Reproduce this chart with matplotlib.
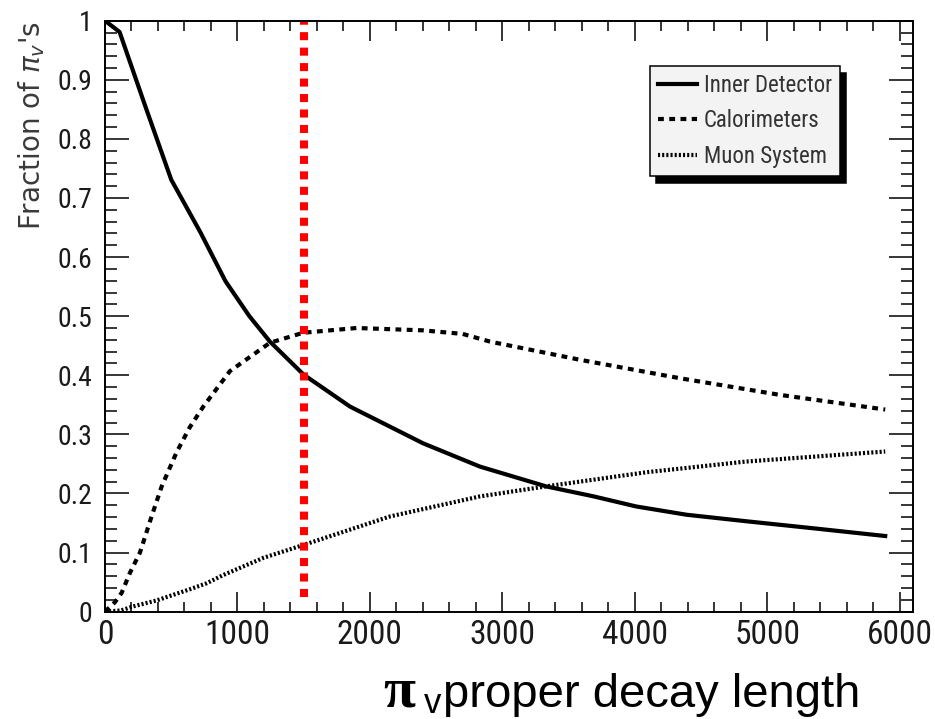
import numpy as np
import matplotlib
matplotlib.use('Agg')
import matplotlib.pyplot as plt
import matplotlib.ticker as ticker

# values
inner_x = [0, 110, 300, 500, 720, 910, 1090, 1245, 1500, 1850, 2400, 2830, 3330, 3690, 4010, 4390, 4840, 5350, 5890]
inner_y = [1.0, 0.981, 0.858, 0.731, 0.642, 0.559, 0.50, 0.457, 0.401, 0.347, 0.285, 0.2455, 0.212, 0.195, 0.178, 0.164, 0.153, 0.141, 0.128]

calo_x = [0, 75, 126, 189, 264, 350, 428, 541, 640, 742, 943, 1245, 1497, 1900, 2402, 2700, 2906, 3590, 4340, 5090, 5890]
calo_y = [0.0, 0.016, 0.032, 0.066, 0.10, 0.16, 0.212, 0.27, 0.312, 0.347, 0.407, 0.455, 0.472, 0.48, 0.476, 0.47, 0.457, 0.426, 0.395, 0.367, 0.342]

muon_x = [0, 120, 214, 390, 642, 767, 893, 1195, 1500, 2150, 2830, 3330, 4090, 4840, 5890]
muon_y = [0.0, 0.002, 0.009, 0.019, 0.038, 0.048, 0.062, 0.091, 0.113, 0.161, 0.195, 0.212, 0.236, 0.254, 0.271]

cut_x = 1500
cut_y = [0.025, 1.0]

labels = ['Inner Detector', 'Calorimeters', 'Muon System']

narrow = ['Roboto Condensed', 'Liberation Sans']
tick_col = '#1a1a1a'

fig = plt.figure(figsize=(9.35, 7.19), dpi=100)
ax = fig.add_axes([0.1123, 0.1493, 0.8642, 0.8219])

ax.plot(inner_x, inner_y, color='black', lw=3.0, linestyle='-', label=labels[0])
ax.plot(calo_x, calo_y, color='black', lw=3.0, linestyle=(0, (1.4, 1.3)), dash_capstyle='butt', label=labels[1])
ax.plot(muon_x, muon_y, color='black', lw=3.0, linestyle=(0, (0.5, 0.5)), dash_capstyle='butt', label=labels[2])

ax.plot([cut_x, cut_x], cut_y, color='red', lw=5.8, linestyle=(0, (1.0, 0.92)), dash_capstyle='butt')

ax.set_xlim(0, 6100)
ax.set_ylim(0, 1)

ax.xaxis.set_major_locator(ticker.MultipleLocator(1000))
ax.xaxis.set_minor_locator(ticker.MultipleLocator(200))
ax.yaxis.set_major_locator(ticker.MultipleLocator(0.1))
ax.yaxis.set_minor_locator(ticker.MultipleLocator(0.02))
ax.yaxis.set_major_formatter(ticker.FuncFormatter(lambda v, p: '%g' % round(v, 2)))

ax.tick_params(axis='both', which='both', direction='in', top=True, right=True, width=1.1, colors='black')
ax.tick_params(axis='x', which='major', length=14.4, pad=5.0)
ax.tick_params(axis='x', which='minor', length=7.2)
ax.tick_params(axis='y', which='major', length=17.0, pad=9.0)
ax.tick_params(axis='y', which='minor', length=8.6)

for lab in ax.get_xticklabels():
    lab.set_fontfamily(narrow)
    lab.set_fontsize(24)
    lab.set_color(tick_col)
for lab in ax.get_yticklabels():
    lab.set_fontfamily(narrow)
    lab.set_fontsize(20)
    lab.set_color(tick_col)

for s in ax.spines.values():
    s.set_linewidth(1.4)

ax.set_ylabel(r"Fraction of $\pi_{v}$'s", loc='top', fontsize=20, family='DejaVu Sans',
              color='#3a3a3a', labelpad=8)

leg = ax.legend(loc='upper left', bbox_to_anchor=(0.6745, 0.924), borderaxespad=0,
                prop={'family': narrow, 'size': 16.5}, labelcolor='#333333',
                fancybox=False, framealpha=1.0, facecolor='#f3f3f3', edgecolor='black',
                shadow={'color': 'black', 'alpha': 1.0, 'ox': 4, 'oy': -5},
                handlelength=1.7, handletextpad=0.3, labelspacing=0.55, borderpad=0.35)
leg.get_frame().set_linewidth(1.1)

# slide caption under the plot
fig.text(0.4096, 0.0167, '\u03c0', family='Liberation Serif', weight='bold', fontsize=42,
         va='baseline', ha='left', color='black')
fig.text(0.4535, 0.008, 'v', family='Liberation Sans', fontsize=25, va='baseline', ha='left', color='black')
fig.text(0.4738, 0.0167, 'proper decay length', family='Liberation Sans', fontsize=34,
         va='baseline', ha='left', color='black')

fig.savefig('out.png', dpi=100)
